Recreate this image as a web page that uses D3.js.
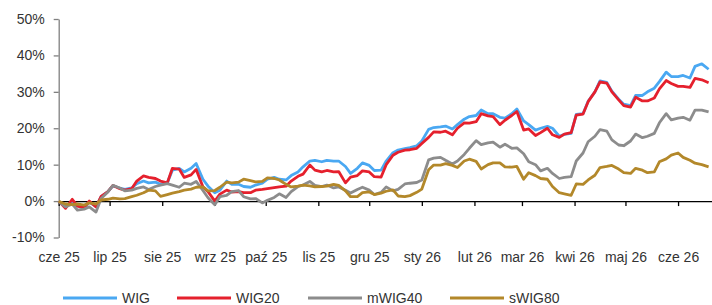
<!DOCTYPE html>
<html><head><meta charset="utf-8">
<script src="https://cdn.jsdelivr.net/npm/d3@7"></script>
<style>
html,body{margin:0;padding:0;background:#fff;}
svg{display:block;font-family:"Liberation Sans",Arial,sans-serif;}
</style></head>
<body><svg id="c" width="712" height="305"></svg>
<script>
const dates = ["2025-06-01","2025-06-02","2025-06-05","2025-06-09","2025-06-12","2025-06-16","2025-06-19","2025-06-23","2025-06-26","2025-06-30",
"2025-07-03","2025-07-07","2025-07-10","2025-07-14","2025-07-17","2025-07-21","2025-07-24","2025-07-28","2025-07-31",
"2025-08-04","2025-08-07","2025-08-11","2025-08-14","2025-08-18","2025-08-21","2025-08-25","2025-08-28",
"2025-09-01","2025-09-04","2025-09-08","2025-09-11","2025-09-15","2025-09-18","2025-09-22","2025-09-25","2025-09-29",
"2025-10-02","2025-10-06","2025-10-09","2025-10-13","2025-10-16","2025-10-20","2025-10-23","2025-10-27","2025-10-30",
"2025-11-03","2025-11-06","2025-11-10","2025-11-13","2025-11-17","2025-11-20","2025-11-24","2025-11-27",
"2025-12-01","2025-12-04","2025-12-08","2025-12-11","2025-12-15","2025-12-18","2025-12-22","2025-12-25","2025-12-29",
"2026-01-01","2026-01-05","2026-01-08","2026-01-12","2026-01-15","2026-01-19","2026-01-22","2026-01-26","2026-01-29",
"2026-02-02","2026-02-05","2026-02-09","2026-02-12","2026-02-16","2026-02-19","2026-02-23","2026-02-26",
"2026-03-02","2026-03-05","2026-03-09","2026-03-12","2026-03-16","2026-03-19","2026-03-23","2026-03-26","2026-03-30",
"2026-04-02","2026-04-06","2026-04-09","2026-04-13","2026-04-16","2026-04-20","2026-04-23","2026-04-27","2026-04-30",
"2026-05-04","2026-05-07","2026-05-11","2026-05-14","2026-05-18","2026-05-21","2026-05-25","2026-05-28",
"2026-06-01","2026-06-04","2026-06-08","2026-06-11","2026-06-15","2026-06-19"];

const wig = [0,-0.5,-1.6,0.0,-1.3,-1.8,-0.3,-1.5,1.2,2.6,
4.2,3.6,3.2,3.6,4.8,5.5,5.0,5.2,4.6,
5.0,8.5,9.0,8.0,9.0,10.3,6.0,4.1,
2.3,3.0,5.5,4.6,4.6,4.0,3.8,4.4,4.9,
6.0,6.5,6.0,5.8,7.0,8.0,9.4,11.0,11.2,
10.8,11.2,11.0,11.0,9.5,7.6,9.0,10.5,
9.8,8.4,8.5,11.0,13.3,14.0,14.4,14.7,15.2,
16.5,19.7,20.2,20.4,20.6,19.8,21.0,22.5,23.2,
23.5,25.0,24.0,24.0,23.0,22.8,24.0,25.3,
22.0,21.0,19.5,20.0,20.5,20.0,17.8,18.3,18.6,
23.8,24.0,27.4,30.0,33.0,32.6,30.2,28.0,26.6,
26.2,29.0,29.0,30.0,31.0,32.8,35.4,34.2,
34.2,34.5,33.8,37.0,37.7,36.2];

const wig20 = [0,-0.5,-2.0,0.5,-1.4,-1.8,0.0,-1.6,1.3,2.6,
4.3,3.4,3.0,3.4,5.5,6.9,6.5,6.2,5.5,
5.0,9.0,8.8,6.5,7.2,8.7,3.9,2.6,
0.0,1.9,3.0,2.5,2.6,2.3,2.3,3.0,3.2,
3.4,3.7,3.9,4.1,5.5,6.8,7.4,9.9,8.5,
8.0,8.4,8.0,8.1,5.0,6.6,7.0,8.3,
8.0,6.7,6.6,10.0,12.6,13.4,14.0,14.1,14.5,
15.8,17.5,19.0,18.9,19.2,18.2,20.0,21.5,21.4,
21.8,24.0,23.4,23.2,21.0,22.2,23.5,24.6,
19.5,19.8,18.0,18.8,20.0,18.2,17.5,18.4,18.8,
23.6,23.9,27.3,30.0,32.7,32.4,30.0,27.8,26.2,
25.8,28.5,27.5,27.5,28.3,30.8,33.1,32.3,
31.5,31.5,31.2,33.7,33.3,32.5];

const mwig40 = [0,-0.5,-1.6,-0.8,-2.5,-2.2,-1.6,-3.0,0.7,2.5,
4.3,3.6,2.8,3.0,3.5,3.9,3.2,4.0,4.4,
4.8,4.4,3.8,4.9,4.6,5.4,2.9,0.9,
-1.0,1.2,1.6,2.6,2.9,1.2,0.6,0.7,-0.5,
0.2,1.0,2.0,1.0,2.6,4.0,4.4,5.4,4.3,
4.0,4.4,3.6,3.9,3.0,2.2,3.2,3.8,
3.0,1.8,2.4,3.9,2.8,3.2,4.7,4.9,5.1,
5.8,11.3,11.8,12.0,11.2,10.2,11.0,12.8,14.5,
16.6,15.5,16.0,16.2,14.8,15.6,14.5,14.6,
13.0,10.8,10.0,8.3,9.0,7.6,6.2,6.5,6.7,
11.0,13.2,16.3,17.8,19.6,19.2,16.8,15.4,15.2,
16.5,18.4,17.4,17.8,18.6,21.5,24.0,22.3,
22.8,23.0,22.2,25.0,25.0,24.5];

const swig80 = [0,-0.3,-0.8,-1.0,-0.8,-1.1,-0.5,-0.8,0.3,0.5,
0.8,0.6,0.7,1.2,1.6,2.3,3.0,2.8,1.3,
1.8,2.2,2.6,3.0,3.3,3.8,3.9,2.8,
2.9,3.8,5.2,5.0,5.2,6.0,5.6,5.3,5.4,
6.4,6.2,5.8,4.6,3.9,4.1,4.4,4.2,3.9,
4.0,4.1,4.6,4.3,2.8,1.2,1.2,2.3,
2.5,1.8,2.2,2.7,3.1,1.4,1.2,1.5,2.4,
3.3,8.6,9.9,9.9,10.3,9.8,9.2,11.0,11.5,
10.9,8.8,10.0,10.5,10.5,9.4,9.3,9.5,
6.0,7.8,7.0,6.2,6.0,4.0,2.3,2.0,1.6,
4.7,4.6,5.8,7.1,9.2,9.5,9.8,8.8,7.8,
7.6,9.0,8.5,7.8,8.0,10.8,11.6,12.6,
13.2,12.0,11.2,10.4,10.0,9.4];

const seriesNames = ["WIG","WIG20","mWIG40","sWIG80"];
const monthTicks = ["2025-06-01","2025-07-01","2025-08-01","2025-09-01","2025-10-01","2025-11-01","2025-12-01","2026-01-01","2026-02-01","2026-03-01","2026-04-01","2026-05-01","2026-06-01"];
const monthLabels = ["cze 25","lip 25","sie 25","wrz 25","paź 25","lis 25","gru 25","sty 26","lut 26","mar 26","kwi 26","maj 26","cze 26"];
const yTicks = [-10,0,10,20,30,40,50];

const parse = d3.timeParse("%Y-%m-%d");
const colors = ["#4aa8f2","#e5202d","#8c8c8c","#b3882a"];
const svg = d3.select("#c");

const x = d3.scaleTime().domain([parse("2025-06-01"), parse("2026-06-21")]).range([58.7, 712]);
const y = d3.scaleLinear().domain([-10, 50]).range([237.5, 19]);

// Y axis
const ya = svg.append("g").attr("transform","translate(58.7,0)")
  .call(d3.axisLeft(y).tickValues(yTicks).tickSize(5).tickSizeOuter(0).tickPadding(9).tickFormat(d => d + "%"));
ya.select(".domain").attr("stroke","#808080").attr("stroke-width",1.3);
ya.selectAll(".tick line").attr("stroke","#808080").attr("stroke-width",1.3);
ya.selectAll("text").attr("font-size","14px").attr("fill","#333").attr("font-family","'Liberation Sans',Arial,sans-serif");

// X axis at 0%
const xa = svg.append("g").attr("transform","translate(0," + y(0) + ")")
  .call(d3.axisBottom(x).tickValues(monthTicks.map(parse)).tickSize(5).tickSizeOuter(0).tickPadding(46)
    .tickFormat((d,i) => monthLabels[i]));
xa.select(".domain").attr("stroke","#000").attr("stroke-width",1.3);
xa.selectAll(".tick line").attr("stroke","#000").attr("stroke-width",1.3);
xa.selectAll("text").attr("font-size","14px").attr("fill","#333").attr("font-family","'Liberation Sans',Arial,sans-serif");

// Lines
const allSeries = [wig, wig20, mwig40, swig80];
const line = d3.line().x((d,i) => x(parse(dates[i]))).y(d => y(d));
allSeries.forEach((s, k) => {
  svg.append("path").datum(s).attr("fill","none").attr("stroke",colors[k])
    .attr("stroke-width",2.8).attr("stroke-linejoin","round").attr("d", line);
});

// Legend
const legX = [63, 177, 308, 450];
const lg = svg.append("g");
seriesNames.forEach((n, k) => {
  lg.append("line").attr("x1",legX[k]).attr("x2",legX[k]+54).attr("y1",298).attr("y2",298)
    .attr("stroke",colors[k]).attr("stroke-width",2.8);
  lg.append("text").attr("x",legX[k]+59).attr("y",302.5).attr("font-size","14px").attr("fill","#333").text(n);
});
</script></body></html>
